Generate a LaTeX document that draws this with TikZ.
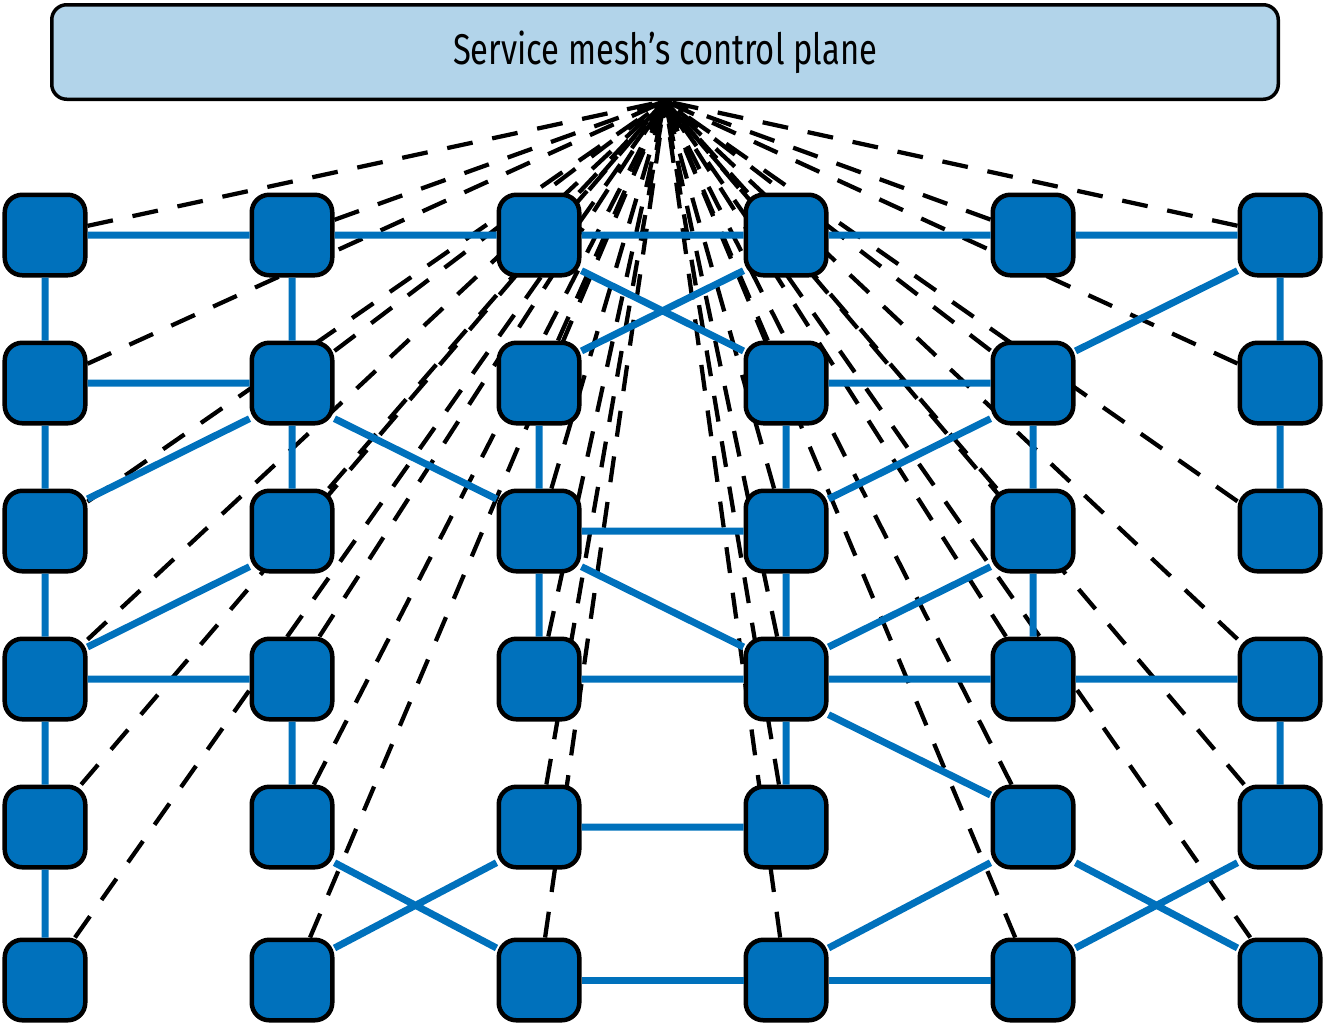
\documentclass[tikz,border=0pt]{standalone}
\usepackage{fontspec}
\setmainfont{Fira Sans}[FakeStretch=0.76]
\usepackage{tikz}
\usetikzlibrary{positioning, backgrounds}
\definecolor{meshblue}{HTML}{0071BC}
\definecolor{planeblue}{HTML}{B2D4EA}
\tikzset{
    node distance=2.96cm and 4.94cm, % vertical and horizontal spacing of the proxies
    on grid, % distances are taken centre to centre
    proxy/.style={draw, line width=0.09cm, fill=meshblue, rounded corners=0.35cm, minimum size=1.61cm, inner sep=0pt}, % sets the look of every proxy
    plane/.style={draw, line width=0.07cm, fill=planeblue, rounded corners=0.3cm, minimum width=24.53cm, minimum height=1.89cm, font=\fontsize{24.5}{29}\selectfont}, % the control plane box
    ctrl/.style={line width=0.085cm, dash pattern=on 0.52cm off 0.4cm}, % links to the control plane
    data/.style={meshblue, line width=0.14cm}, % links between the proxies
}

\begin{document}
\begin{tikzpicture}
    \useasboundingbox (0,0) rectangle (26.54,-20.54);
    \node[plane] (cp) at (13.3,-1.04) {Service mesh’s control plane};
    \coordinate (hub) at (cp.south);
    % proxies
    \node[proxy] (n11) at (0.9,-4.7) {};
    \node[proxy, right=of n11] (n12) {};
    \node[proxy, right=of n12] (n13) {};
    \node[proxy, right=of n13] (n14) {};
    \node[proxy, right=of n14] (n15) {};
    \node[proxy, right=of n15] (n16) {};
    \node[proxy, below=of n11] (n21) {};
    \node[proxy, right=of n21] (n22) {};
    \node[proxy, right=of n22] (n23) {};
    \node[proxy, right=of n23] (n24) {};
    \node[proxy, right=of n24] (n25) {};
    \node[proxy, right=of n25] (n26) {};
    \node[proxy, below=of n21] (n31) {};
    \node[proxy, right=of n31] (n32) {};
    \node[proxy, right=of n32] (n33) {};
    \node[proxy, right=of n33] (n34) {};
    \node[proxy, right=of n34] (n35) {};
    \node[proxy, right=of n35] (n36) {};
    \node[proxy, below=of n31] (n41) {};
    \node[proxy, right=of n41] (n42) {};
    \node[proxy, right=of n42] (n43) {};
    \node[proxy, right=of n43] (n44) {};
    \node[proxy, right=of n44] (n45) {};
    \node[proxy, right=of n45] (n46) {};
    \node[proxy, below=of n41] (n51) {};
    \node[proxy, right=of n51] (n52) {};
    \node[proxy, right=of n52] (n53) {};
    \node[proxy, right=of n53] (n54) {};
    \node[proxy, right=of n54] (n55) {};
    \node[proxy, right=of n55] (n56) {};
    \node[proxy, below=3.06cm of n51] (n61) {};
    \node[proxy, right=of n61] (n62) {};
    \node[proxy, right=of n62] (n63) {};
    \node[proxy, right=of n63] (n64) {};
    \node[proxy, right=of n64] (n65) {};
    \node[proxy, right=of n65] (n66) {};
    % every proxy talks to the control plane
    \begin{scope}[on background layer]
        \draw[ctrl] (n11) -- (hub) (n12) -- (hub) (n13) -- (hub) (n14) -- (hub) (n15) -- (hub) (n16) -- (hub);
        \draw[ctrl] (n21) -- (hub) (n22) -- (hub) (n23) -- (hub) (n24) -- (hub) (n25) -- (hub) (n26) -- (hub);
        \draw[ctrl] (n31) -- (hub) (n32) -- (hub) (n33) -- (hub) (n34) -- (hub) (n35) -- (hub) (n36) -- (hub);
        \draw[ctrl] (n41) -- (hub) (n42) -- (hub) (n43) -- (hub) (n44) -- (hub) (n45) -- (hub) (n46) -- (hub);
        \draw[ctrl] (n51) -- (hub) (n52) -- (hub) (n53) -- (hub) (n54) -- (hub) (n55) -- (hub) (n56) -- (hub);
        \draw[ctrl] (n61) -- (hub) (n62) -- (hub) (n63) -- (hub) (n64) -- (hub) (n65) -- (hub) (n66) -- (hub);
    \end{scope}
    % data plane
    \draw[data] (n11) -- (n12) (n12) -- (n13) (n13) -- (n14) (n14) -- (n15) (n15) -- (n16)
        (n11) -- (n21) (n12) -- (n22) (n16) -- (n26)
        (n13.-40) -- (n24.143) (n14.-140) -- (n23.37) (n16.-140) -- (n25.37);
    \draw[data] (n21) -- (n22) (n24) -- (n25)
        (n21) -- (n31) (n22) -- (n32) (n23) -- (n33) (n24) -- (n34) (n25) -- (n35) (n26) -- (n36)
        (n22.-140) -- (n31.37) (n22.-40) -- (n33.143) (n25.-140) -- (n34.37);
    \draw[data] (n33) -- (n34)
        (n31) -- (n41) (n33) -- (n43) (n34) -- (n44) (n35) -- (n45)
        (n32.-140) -- (n41.37) (n33.-40) -- (n44.143) (n35.-140) -- (n44.37);
    \draw[data] (n41) -- (n42) (n43) -- (n44) (n44) -- (n45) (n45) -- (n46)
        (n41) -- (n51) (n42) -- (n52) (n44) -- (n54) (n46) -- (n56)
        (n44.-40) -- (n55.143);
    \draw[data] (n53) -- (n54) (n51) -- (n61)
        (n52.-40) -- (n63.143) (n53.-140) -- (n62.37) (n55.-140) -- (n64.37)
        (n55.-40) -- (n66.143) (n56.-140) -- (n65.37);
    \draw[data] (n63) -- (n64) (n64) -- (n65);
\end{tikzpicture}
\end{document}
